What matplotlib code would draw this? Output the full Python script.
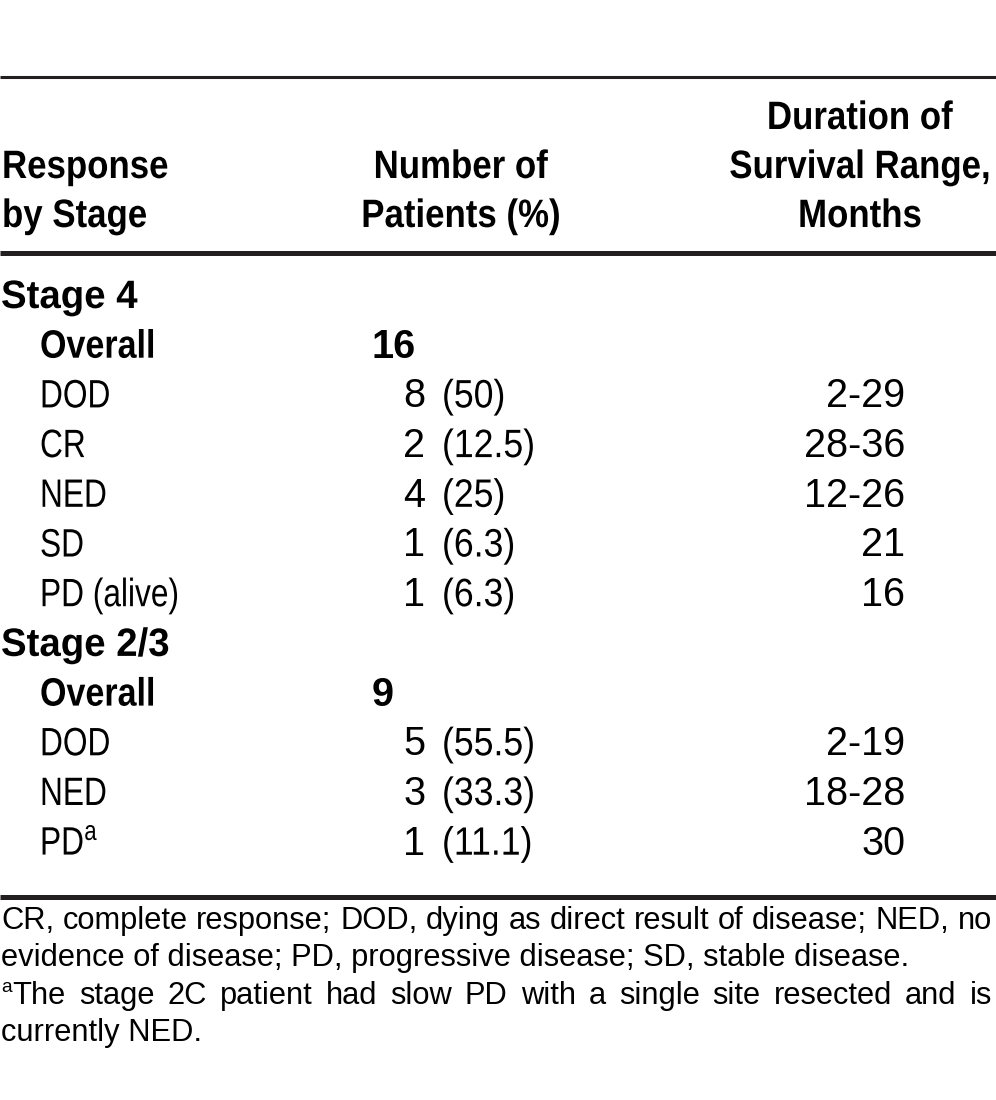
import matplotlib
matplotlib.use("Agg")
import matplotlib.pyplot as plt
from matplotlib.patheffects import AbstractPathEffect
from matplotlib.transforms import Affine2D

# ---------------- data ----------------
header_col1 = ["Response", "by Stage"]
header_col2 = ["Number of", "Patients (%)"]
header_col3 = ["Duration of", "Survival Range,", "Months"]

row_labels = ["Stage 4", "Overall", "DOD", "CR", "NED", "SD", "PD (alive)",
              "Stage 2/3", "Overall", "DOD", "NED", "PD"]
row_kind = ["group", "overall", "item", "item", "item", "item", "item",
            "group", "overall", "item", "item", "item"]
row_super = ["", "", "", "", "", "", "", "", "", "", "", "a"]
counts = ["", "16", "8", "2", "4", "1", "1", "", "9", "5", "3", "1"]
percents = ["", "", "(50)", "(12.5)", "(25)", "(6.3)", "(6.3)", "", "", "(55.5)", "(33.3)", "(11.1)"]
ranges = ["", "", "2-29", "28-36", "12-26", "21", "16", "", "", "2-19", "18-28", "30"]

footnotes = [
    "CR, complete response; DOD, dying as direct result of disease; NED, no",
    "evidence of disease; PD, progressive disease; SD, stable disease.",
    "The stage 2C patient had slow PD with a single site resected and is",
    "currently NED.",
]
footnote_super = ["", "", "a", ""]
footnote_justify = [True, False, True, False]

# ---------------- style ----------------
FONT = "Liberation Sans"
plt.rcParams["mathtext.fontset"] = "custom"
plt.rcParams["mathtext.rm"] = FONT
plt.rcParams["mathtext.it"] = FONT
plt.rcParams["mathtext.bf"] = FONT + ":bold"
INK = "#231f20"
FS = 28.5
FS_FOOT = 22.2

# horizontal condensing factors (table body uses a condensed grotesque)
SQ_HEAD = 0.88
SQ_GROUP = 0.97
SQ_OVERALL = 0.86
SQ_LABEL = 0.80
SQ_PCT = 0.9
SQ_NUM = 1.0

W, H = 996, 1100
fig = plt.figure(figsize=(W / 100, H / 100), dpi=100)
ax = fig.add_axes([0, 0, 1, 1])
ax.set_xlim(0, W)
ax.set_ylim(H, 0)
ax.axis("off")
fig.canvas.draw()
renderer = fig.canvas.get_renderer()


class Stretch(AbstractPathEffect):
    """Stretch glyphs vertically about the baseline, so a smaller font size
    (laid out at its true, narrower width) is drawn at full height:
    the result is a condensed face whose text box matches its ink."""

    def __init__(self, sy, base_y):
        super().__init__()
        self.sy = sy
        self.base_y = base_y

    def draw_path(self, renderer, gc, tpath, affine, rgbFace=None):
        a = affine + Affine2D().translate(0, -self.base_y).scale(1, self.sy).translate(0, self.base_y)
        renderer.draw_path(gc, tpath, a, rgbFace)


def txt(x, y, s, bold=False, size=FS, ha="left", sx=1.0):
    t = ax.text(x, y, s, fontsize=size * sx, fontfamily=FONT, color="black",
                fontweight="bold" if bold else "normal", ha=ha, va="baseline")
    if sx != 1.0:
        base = ax.transData.transform((x, y))[1]
        t.set_path_effects([Stretch(1.0 / sx, base)])
    return t


def width_px(t):
    return t.get_window_extent(renderer).width


# rules
ax.plot([0, W], [77, 77], color=INK, lw=2.2, solid_capstyle="butt")
ax.plot([0, W], [252.5, 252.5], color=INK, lw=3.6, solid_capstyle="butt")
ax.plot([0, W], [897, 897], color=INK, lw=3.6, solid_capstyle="butt")

# header
hb = [129, 178, 227]
for i, s in enumerate(header_col1):
    txt(2, hb[i + 1], s, bold=True, sx=SQ_HEAD)
for i, s in enumerate(header_col2):
    txt(461, hb[i + 1], s, bold=True, ha="center", sx=SQ_HEAD)
for i, s in enumerate(header_col3):
    txt(860, hb[i], s, bold=True, ha="center", sx=SQ_HEAD)

# body
base0, step = 308, 49.7
for i, lab in enumerate(row_labels):
    y = base0 + step * i
    kind = row_kind[i]
    x = 1 if kind == "group" else 40
    sq = {"group": SQ_GROUP, "overall": SQ_OVERALL, "item": SQ_LABEL}[kind]
    label = lab + (r"$^{\mathrm{%s}}$" % row_super[i] if row_super[i] else "")
    txt(x, y, label, bold=(kind != "item"), sx=sq)
    if kind == "overall":
        txt(372, y, counts[i], bold=True, sx=SQ_NUM)
    elif kind == "item":
        txt(403, y, counts[i], sx=SQ_NUM)
        txt(442, y, percents[i], sx=SQ_PCT)
        txt(905, y, ranges[i], ha="right", sx=SQ_NUM)

# footnotes (regular width; full lines justified)
fb = [929, 966, 1004, 1041]
left, right = 1, 992
for i, line in enumerate(footnotes):
    y = fb[i]
    x0 = left
    if footnote_super[i]:
        st = txt(x0, y - 12, footnote_super[i], size=FS_FOOT * 0.62)
        x0 += width_px(st) + 1
    if footnote_justify[i]:
        words = line.split(" ")
        objs = [txt(0, y, w, size=FS_FOOT) for w in words]
        widths = [width_px(o) for o in objs]
        gap = (right - x0 - sum(widths)) / (len(words) - 1)
        x = x0
        for o, w in zip(objs, widths):
            o.set_x(x)
            x += w + gap
    else:
        txt(x0, y, line, size=FS_FOOT)

fig.savefig("out.png", dpi=100)
